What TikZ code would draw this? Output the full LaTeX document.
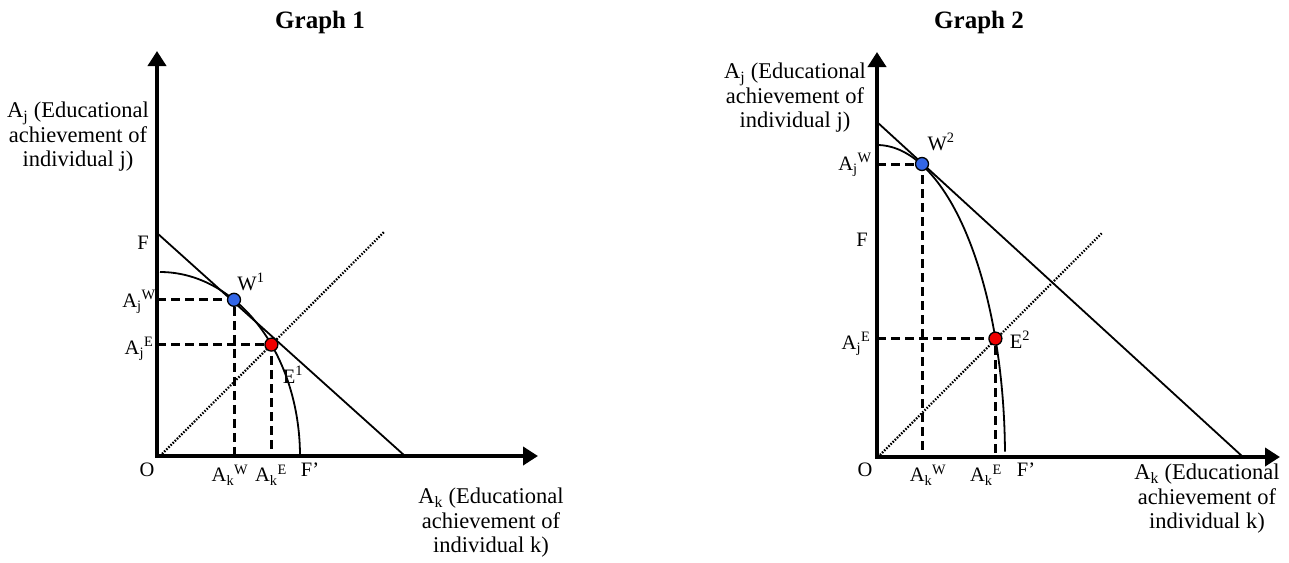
\documentclass[tikz,border=0pt]{standalone}
\usepackage{fontspec}
\setmainfont{Liberation Serif}
\usetikzlibrary{arrows.meta}
\definecolor{wblue}{RGB}{51,102,230}
\definecolor{ered}{RGB}{240,0,0}
\begin{document}
\begin{tikzpicture}[x=1pt,y=-1pt,
  axis/.style={line width=4pt, line join=miter, {Triangle[length=15pt,width=18pt]}-{Triangle[length=15pt,width=18pt]}},
  budget/.style={line width=1.8pt},
  front/.style={line width=1.8pt},
  dashline/.style={line width=3pt, dash pattern=on 9pt off 5pt},
  dotline/.style={line width=2.2pt, dash pattern=on 1.5pt off 1.5pt},
  axlbl/.style={font=\fontsize{22.5}{24.5}\selectfont, align=center, inner sep=0pt},
  ttl/.style={font=\fontsize{25}{28}\selectfont\bfseries, inner sep=0pt},
  pl/.style={font=\fontsize{20.5}{24}\selectfont, inner sep=0pt},
  pmark/.style={circle, draw=black, line width=1.3pt, minimum size=13pt, inner sep=0pt},
]
\useasboundingbox (0,0) rectangle (1289,562);

% ================= Graph 1 =================
\node[ttl] (t1) at (320,22) {Graph 1};
\coordinate (O1) at (157,456);
\coordinate (Y1) at (157,51);
\coordinate (X1) at (538,456);
\coordinate (F1) at (157,233);
\coordinate (Fb1) at (405,456);
\coordinate (D1a) at (160,456);
\coordinate (D1b) at (384,232);

\draw[dotline] (D1a) -- (D1b);
\draw[budget] (F1) -- (Fb1);
\draw[front] plot[domain=0:90, samples=80] ({160+140*cos(\x)},{456-184*sin(\x)});

\coordinate (W1p) at (234,299.8);
\coordinate (E1p) at (271.4,344.6);
\draw[dashline] (O1 |- W1p) -- (W1p) -- (W1p |- O1);
\draw[dashline] (O1 |- E1p) -- (E1p) -- (E1p |- O1);
\node[pmark, fill=wblue] (W1) at (W1p) {};
\node[pmark, fill=ered] (E1) at (E1p) {};

\draw[axis] (Y1) -- (O1) -- (X1);

\node[axlbl] (ylab1) at (78,137) {A\textsubscript{j} (Educational\\achievement of\\individual j)};
\node[axlbl] (xlab1) at (491,523) {A\textsubscript{k} (Educational\\achievement of\\individual k)};
\node[pl] (Fl1) at (143,243) {F};
\node[pl] (Ol1) at (147,470) {O};
\node[pl] (AjW1) at (139,302) {A\textsubscript{j}\textsuperscript{W}};
\node[pl] (AjE1) at (139,349) {A\textsubscript{j}\textsuperscript{E}};
\node[pl] (AkW1) at (230,475) {A\textsubscript{k}\textsuperscript{W}};
\node[pl] (AkE1) at (271,475) {A\textsubscript{k}\textsuperscript{E}};
\node[pl] (Fp1) at (310,470) {F’};
\node[pl] (Wl1) at (251,282) {W\textsuperscript{1}};
\node[pl] (El1) at (293,375) {E\textsuperscript{1}};

% ================= Graph 2 =================
\node[ttl] (t2) at (979,22) {Graph 2};
\coordinate (O2) at (877,457);
\coordinate (Y2) at (877,52);
\coordinate (X2) at (1280,457);
\coordinate (F2) at (877,122);
\coordinate (Fb2) at (1243,457);
\coordinate (D2a) at (880,455);
\coordinate (D2b) at (1102,233);

\draw[dotline] (D2a) -- (D2b);
\draw[budget] (F2) -- (Fb2);
\draw[front] plot[domain=1:90, samples=80] ({877+128*cos(\x)},{457-312*sin(\x)});

\coordinate (W2p) at (922,164);
\coordinate (E2p) at (995.4,338.6);
\draw[dashline] (O2 |- W2p) -- (W2p) -- (W2p |- O2);
\draw[dashline] (O2 |- E2p) -- (E2p) -- (E2p |- O2);
\node[pmark, fill=wblue] (W2) at (W2p) {};
\node[pmark, fill=ered] (E2) at (E2p) {};

\draw[axis] (Y2) -- (O2) -- (X2);

\node[axlbl] (ylab2) at (795,98) {A\textsubscript{j} (Educational\\achievement of\\individual j)};
\node[axlbl] (xlab2) at (1207,499) {A\textsubscript{k} (Educational\\achievement of\\individual k)};
\node[pl] (Fl2) at (862,240) {F};
\node[pl] (Ol2) at (865,470) {O};
\node[pl] (AjW2) at (855,165) {A\textsubscript{j}\textsuperscript{W}};
\node[pl] (AjE2) at (856,344) {A\textsubscript{j}\textsuperscript{E}};
\node[pl] (AkW2) at (928,475) {A\textsubscript{k}\textsuperscript{W}};
\node[pl] (AkE2) at (986,475) {A\textsubscript{k}\textsuperscript{E}};
\node[pl] (Fp2) at (1026,470) {F’};
\node[pl] (Wl2) at (941,142) {W\textsuperscript{2}};
\node[pl] (El2) at (1020,340) {E\textsuperscript{2}};
\end{tikzpicture}
\end{document}
